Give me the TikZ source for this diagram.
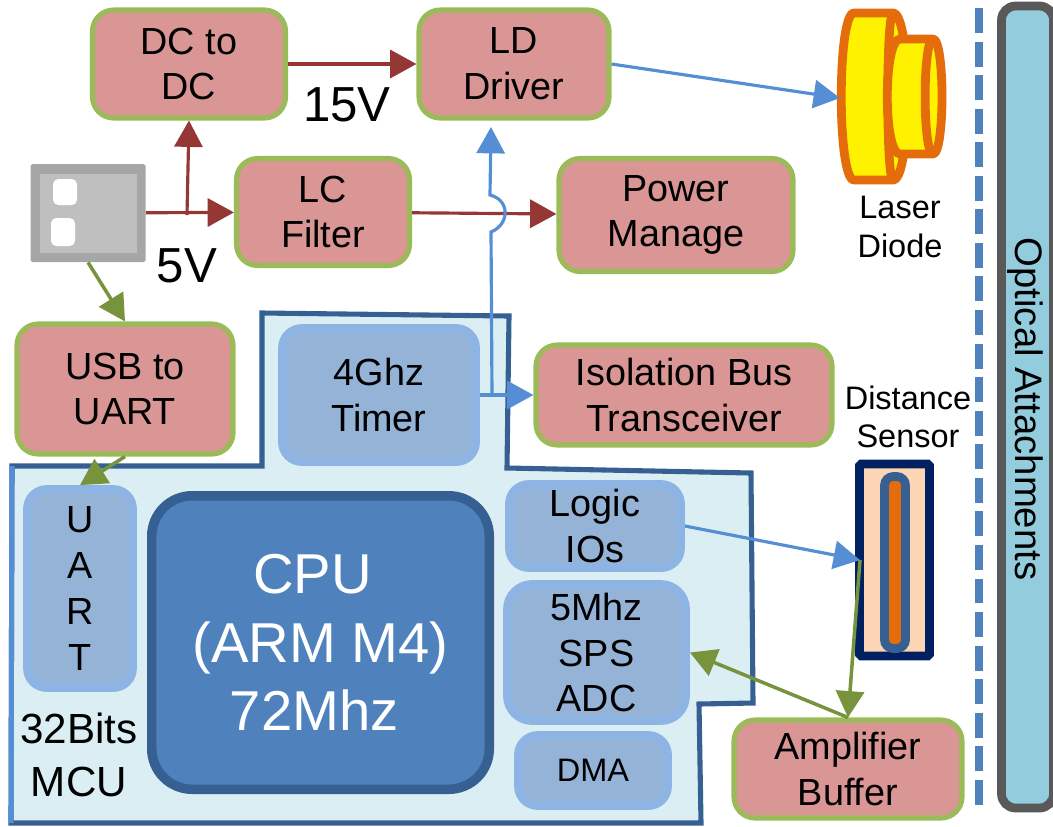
\documentclass[tikz,border=0pt]{standalone}
\usepackage{fontspec}
\setmainfont{Liberation Sans}
\usetikzlibrary{arrows.meta}
\definecolor{boxpink}{HTML}{D99694}
\definecolor{boxgreen}{HTML}{9BBB59}
\definecolor{unitfill}{HTML}{95B3D7}
\definecolor{unitline}{HTML}{8EB4E3}
\definecolor{cpufill}{HTML}{4F81BD}
\definecolor{cpuline}{HTML}{376092}
\definecolor{mcufill}{HTML}{DBEEF4}
\definecolor{redline}{HTML}{953735}
\definecolor{greenline}{HTML}{77933C}
\definecolor{blueline}{HTML}{558ED5}
\definecolor{laserline}{HTML}{E46C0A}
\definecolor{peach}{HTML}{FCD5B5}
\definecolor{navy}{HTML}{002060}
\definecolor{barfill}{HTML}{93CDDD}
\newcommand{\bodyfont}{\fontsize{21.5}{26}\selectfont}
\newcommand{\smallfont}{\fontsize{18.5}{22}\selectfont}
\tikzset{
  boxsize/.style 2 args={minimum width=#1*0.02cm, minimum height=#2*0.02cm},
  lowered/.style={execute at begin node={\rule{0pt}{20pt}}},
  supply/.style={draw=boxgreen, fill=boxpink, line width=2.9pt, rounded corners=12pt, align=center, inner sep=0pt, font=\bodyfont, lowered},
  unit/.style={draw=unitline, fill=unitfill, line width=5pt, rounded corners=11pt, align=center, inner sep=0pt, font=\bodyfont},
  caption/.style={align=center, inner sep=0pt, font=\smallfont},
  redarrow/.style={draw=redline, line width=1.8pt, -{Triangle[length=15pt,width=16pt]}},
  greenarrow/.style={draw=greenline, line width=2pt, -{Triangle[length=15pt,width=16pt]}},
  bluearrow/.style={draw=blueline, line width=1.8pt, -{Triangle[length=15pt,width=16pt]}}
}
\begin{document}
\begin{tikzpicture}[x=0.02cm, y=-0.02cm]
  \useasboundingbox (0,0) rectangle (1053,826);

  % MCU outline
  \draw[draw=cpuline, fill=mcufill, line width=2.9pt, line join=miter]
    (12,466) -- (262,466) -- (262,313) -- (509,316) -- (507,468) -- (751,473)
    -- (753,703) -- (699,704) -- (701,823) -- (11,823) -- cycle;
  \draw[draw=blueline, line width=2.9pt] (12,466) -- (11,823);

  % power and interface boxes
  \node[supply, boxsize={193}{108}] (dcdc) at (189,64)  {DC to\\DC};
  \node[supply, boxsize={190}{108}] (ldd)  at (514,64)  {LD\\Driver};
  \node[supply, boxsize={173}{107}] (lcf)  at (323,212) {LC\\Filter};
  \node[supply, boxsize={234}{113}] (pwr)  at (676,215) {Power\\Manage};
  \node[supply, boxsize={216}{130}] (usb)  at (125,389) {USB to\\UART};
  \node[supply, boxsize={296}{100}] (iso)  at (684,395) {Isolation Bus\\Transceiver};
  \node[supply, boxsize={228}{98}]  (amp)  at (848,769) {Amplifier\\Buffer};

  % MCU units
  \node[unit, lowered, boxsize={193}{133}] (timer) at (379,395) {4Ghz\\Timer};
  \node[unit, lowered, boxsize={105}{198}] (uart) at (80,588.5) {U\\A\\R\\T};
  \node[unit, lowered, boxsize={171}{83}]  (logic) at (595,526) {Logic\\IOs};
  \node[unit, lowered, boxsize={178}{136}, rounded corners=14pt] (adc) at (596.5,652.5) {5Mhz\\SPS\\ADC};
  \node[unit, boxsize={149}{70}, font=\smallfont] (dma) at (593,770.5) {DMA};
  \node[draw=cpuline, fill=cpufill, line width=5.4pt, rounded corners=23pt, boxsize={337.5}{293.5}, align=center, inner sep=0pt, text=white,
        font=\fontsize{32}{39}\selectfont] (cpu) at (320.5,642.5) {CPU\hspace*{9pt}\\(ARM M4)\\72Mhz\hspace*{7pt}};

  % USB socket
  \node[draw=none, fill=black!35, rounded corners=1pt, boxsize={115}{98}] (socket) at (88,213) {};
  \node[draw=none, fill=black!25, boxsize={97}{79}] (socketin) at (88,213) {};
  \node[fill=white, rounded corners=3pt, boxsize={24}{26}] (pin1) at (65,192) {};
  \node[fill=white, rounded corners=3pt, boxsize={24}{28}] (pin2) at (63,232) {};

  % laser diode
  \draw[draw=laserline, fill=yellow, line width=5pt, line join=round]
    (854,13) -- (893,13) .. controls (912,13) and (912,180) .. (893,180) -- (854,180)
    .. controls (837,180) and (837,13) .. (854,13) -- cycle;
  \draw[draw=laserline, line width=5pt] (893,13) .. controls (886,13) and (886,180) .. (893,180);
  \draw[draw=laserline, fill=yellow, line width=5pt, line join=round]
    (900,39) -- (933,39) .. controls (945,39) and (945,154) .. (933,154) -- (900,154)
    .. controls (883,154) and (883,39) .. (900,39) -- cycle;
  \draw[draw=laserline, line width=5pt] (933,39) .. controls (922.5,39) and (922.5,154) .. (933,154);
  \coordinate (laserin) at (840,98);

  % distance sensor
  \node[draw=navy, fill=peach, line width=5pt, rounded corners=1pt, boxsize={70}{192}] (sensor) at (894.5,560) {};
  \node[draw=cpuline, fill=laserline, line width=5pt, rounded corners=5pt, boxsize={21}{172}] (sensorin) at (895,562.5) {};
  \coordinate (sensorpin) at (860,560);

  % optical side
  \draw[draw=cpufill, line width=4.6pt, dash pattern=on 14.2pt off 4.9pt] (979,8) -- (979,806);
  \node[draw=black!65, fill=barfill, line width=5pt, rounded corners=8pt, boxsize={52}{802}] (optic) at (1027.5,407) {};
  \node[rotate=-90, inner sep=0pt, font=\fontsize{21.8}{24}\selectfont] (opticlabel) at (1025,409) {Optical Attachments};

  % plain labels
  \node[inner sep=0pt, font=\fontsize{28}{32}\selectfont] (v15) at (347,105) {15V};
  \node[inner sep=0pt, font=\fontsize{28}{32}\selectfont] (v5)  at (187,266) {5V};
  \node[caption] (laser) at (900,227) {Laser\\Diode};
  \node[caption] (dist)  at (908,417) {Distance\\Sensor};
  \node[align=center, inner sep=0pt, font=\fontsize{24}{28}\selectfont] (mcu) at (79,755) {32Bits\\[2pt]MCU};

  % connectors
  \coordinate (swjoin)  at (187,215);
  \coordinate (tmrjoin) at (492,396);
  \coordinate (lddin)   at (491,127);
  \draw[redarrow] (socket) -- (lcf);
  \draw[redarrow] (swjoin) -- (dcdc.south);
  \draw[redarrow] (dcdc) -- (ldd);
  \draw[redarrow] (lcf) -- (pwr);
  \draw[greenarrow] (socket.south) -- (usb.north);
  \draw[greenarrow] (usb.south) -- (uart.north);
  \draw[greenarrow] (sensorpin) -- (amp.north);
  \draw[greenarrow] (amp.north) -- (adc.east);
  \draw[bluearrow] (ldd.east) -- (laserin);
  \draw[bluearrow] (logic.east) -- (sensorpin);
  \draw[bluearrow] (timer) -- (iso);
  \draw[bluearrow] (tmrjoin) -- (491,232) .. controls (510,224) and (510,200) .. (490,195) -- (lddin);
\end{tikzpicture}
\end{document}
